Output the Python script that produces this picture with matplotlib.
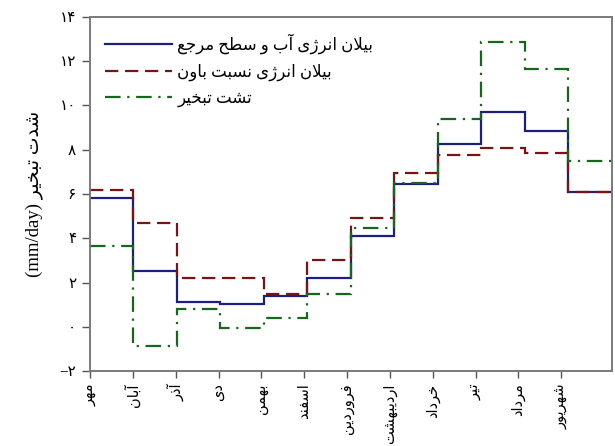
import numpy as np
import matplotlib

matplotlib.use("Agg")
import matplotlib.pyplot as plt

# months (Persian calendar, starting with Mehr)
months = ["مهر", "آبان", "آذر", "دی", "بهمن", "اسفند",
          "فروردین", "اردیبهشت", "خرداد", "تیر", "مرداد", "شهریور"]

energy_ref = [5.8, 2.5, 1.1, 1.05, 1.4, 2.2, 4.1, 6.45, 8.25, 9.7, 8.85, 6.1]
bowen = [6.2, 4.7, 2.2, 2.2, 1.5, 3.0, 4.9, 6.95, 7.75, 8.1, 7.85, 6.1]
pan = [3.65, -0.85, 0.8, -0.05, 0.4, 1.5, 4.45, 6.5, 9.4, 12.85, 11.65, 7.5]

series_labels = ["بیلان انرژی آب و سطح مرجع", "بیلان انرژی نسبت باون", "تشت تبخیر"]
ylabel_fa = "شدت تبخیر"
yticks = [-2, 0, 2, 4, 6, 8, 10, 12, 14]

# --- minimal Arabic/Persian shaping (matplotlib has no complex text layout) ---
FORMS = {  # isolated, final, initial, medial
    "ا": ("\uFE8D", "\uFE8E"), "آ": ("\uFE81", "\uFE82"),
    "د": ("\uFEA9", "\uFEAA"), "ذ": ("\uFEAB", "\uFEAC"),
    "ر": ("\uFEAD", "\uFEAE"), "ز": ("\uFEAF", "\uFEB0"),
    "ژ": ("\uFB8A", "\uFB8B"), "و": ("\uFEED", "\uFEEE"),
    "ب": ("\uFE8F", "\uFE90", "\uFE91", "\uFE92"),
    "ت": ("\uFE95", "\uFE96", "\uFE97", "\uFE98"),
    "ج": ("\uFE9D", "\uFE9E", "\uFE9F", "\uFEA0"),
    "ح": ("\uFEA1", "\uFEA2", "\uFEA3", "\uFEA4"),
    "خ": ("\uFEA5", "\uFEA6", "\uFEA7", "\uFEA8"),
    "س": ("\uFEB1", "\uFEB2", "\uFEB3", "\uFEB4"),
    "ش": ("\uFEB5", "\uFEB6", "\uFEB7", "\uFEB8"),
    "ط": ("\uFEC1", "\uFEC2", "\uFEC3", "\uFEC4"),
    "ع": ("\uFEC9", "\uFECA", "\uFECB", "\uFECC"),
    "ف": ("\uFED1", "\uFED2", "\uFED3", "\uFED4"),
    "ل": ("\uFEDD", "\uFEDE", "\uFEDF", "\uFEE0"),
    "م": ("\uFEE1", "\uFEE2", "\uFEE3", "\uFEE4"),
    "ن": ("\uFEE5", "\uFEE6", "\uFEE7", "\uFEE8"),
    "ه": ("\uFEE9", "\uFEEA", "\uFEEB", "\uFEEC"),
    "ی": ("\uFBFC", "\uFBFD", "\uFBFE", "\uFBFF"),
}
LAM_ALEF = {"ا": ("\uFEFB", "\uFEFC"), "آ": ("\uFEF5", "\uFEF6")}


def dual(c):
    return c in FORMS and len(FORMS[c]) == 4


def fa(text):
    out = []
    i = 0
    while i < len(text):
        c = text[i]
        prev = text[i - 1] if i > 0 else ""
        joins_prev = dual(prev)
        if c not in FORMS:
            out.append(c)
            i += 1
            continue
        if c == "ل" and i + 1 < len(text) and text[i + 1] in LAM_ALEF:
            out.append(LAM_ALEF[text[i + 1]][1 if joins_prev else 0])
            i += 2
            continue
        nxt = text[i + 1] if i + 1 < len(text) else ""
        joins_next = dual(c) and nxt in FORMS
        f = FORMS[c]
        if joins_prev and joins_next:
            out.append(f[3])
        elif joins_prev:
            out.append(f[1])
        elif joins_next:
            out.append(f[2])
        else:
            out.append(f[0])
        i += 1
    return "".join(out)[::-1]


def fa_digits(v):
    s = str(abs(v)).translate(str.maketrans("0123456789", "۰۱۲۳۴۵۶۷۸۹"))
    return ("\u2212" if v < 0 else "") + s


FONT = ["Liberation Serif", "DejaVu Sans"]
plt.rcParams["font.family"] = FONT

fig = plt.figure(figsize=(6.15, 4.46), dpi=100)
ax = fig.add_axes([0.1463, 0.168, 0.8487, 0.794])

edges = np.arange(len(months) + 1)
ax.stairs(energy_ref, edges, baseline=None, color="#1b1f7e", linewidth=1.6,
          label=fa(series_labels[0]))
ax.stairs(bowen, edges, baseline=None, color="#7a1414", linewidth=1.6,
          linestyle=(0, (6, 3)), label=fa(series_labels[1]))
ax.stairs(pan, edges, baseline=None, color="#17661a", linewidth=1.6,
          linestyle=(0, (7, 3, 1, 3)), label=fa(series_labels[2]))

ax.set_xlim(0, len(months))
ax.set_ylim(-2, 14)
ax.set_yticks(yticks, [fa_digits(v) for v in yticks], fontsize=11)
ax.set_xticks(np.arange(len(months)) * 0.985, [fa(m) for m in months],
              rotation=90, fontsize=10.5)
ax.tick_params(axis="y", length=6, width=1, color="#555555", pad=4)
ax.tick_params(axis="x", length=5, width=1, color="#555555", pad=4)
for sp in ax.spines.values():
    sp.set_color("#7a7a7a")
    sp.set_linewidth(1.4)

ax.set_ylabel("(mm/day) " + fa(ylabel_fa), fontsize=13.5, labelpad=12)

ax.legend(loc="upper left", frameon=False, fontsize=12, handlelength=4.0,
          handletextpad=0.35, labelspacing=0.58, borderaxespad=0.5,
          bbox_to_anchor=(0.0, 0.995))

fig.savefig("out.png", dpi=100)
